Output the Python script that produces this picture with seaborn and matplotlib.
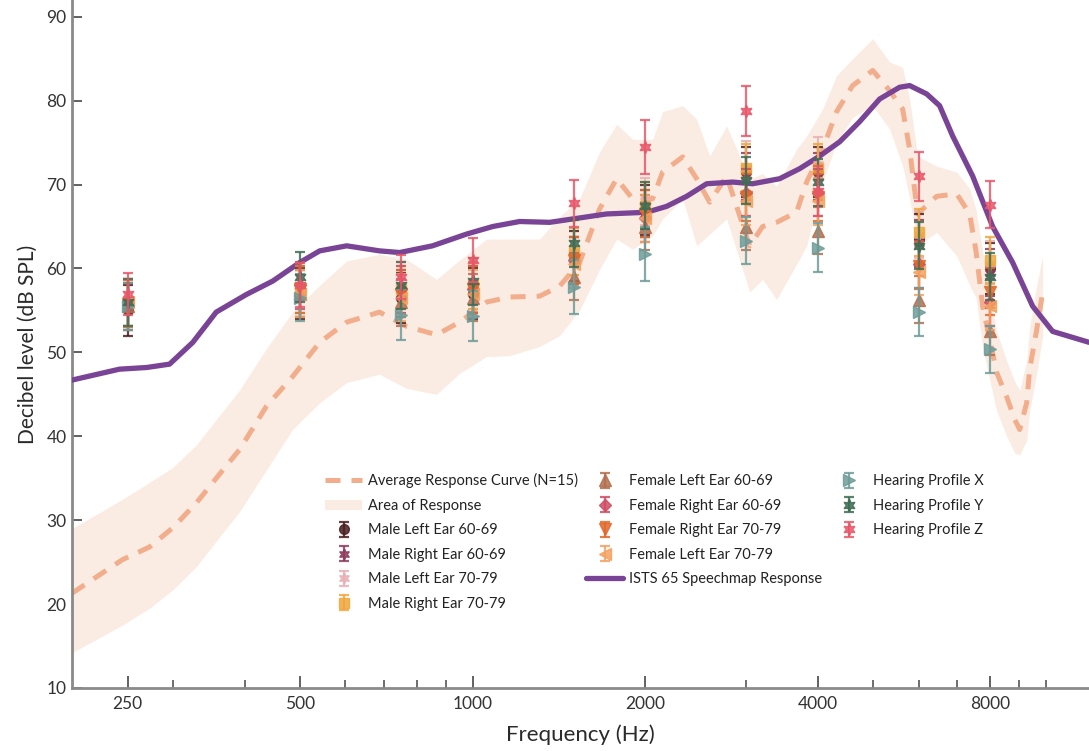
import numpy as np
import pandas as pd
import matplotlib
matplotlib.use("Agg")
import matplotlib.pyplot as plt
import seaborn as sns
from matplotlib.patches import Rectangle, Patch
from matplotlib.ticker import FixedLocator, FixedFormatter, NullFormatter

# ---------------- data ----------------
avg_freq = [200, 245, 273, 300, 330, 357, 392, 437, 485, 541, 603, 688, 767, 865, 949,
            1058, 1160, 1309, 1419, 1537, 1666, 1784, 1902, 2061, 2146, 2326, 2460, 2592,
            2775, 3044, 3207, 3392, 3675, 3827, 4081, 4317, 4604, 4990, 5342, 5628, 5790,
            5977, 6452, 6993, 7368, 7560, 7763, 8213, 8550, 8830, 9010, 9265, 9375, 9645, 9880]
avg_db = [21.3, 25.3, 26.8, 29.1, 32.1, 35.0, 38.4, 43.6, 47.1, 51.2, 53.6, 54.8, 53.1, 52.1, 53.6,
          56.0, 56.6, 56.7, 57.9, 60.7, 67.1, 70.7, 68.3, 68.3, 71.5, 73.3, 70.7, 67.9,
          71.0, 62.7, 65.0, 65.5, 66.7, 70.3, 74.2, 78.7, 81.8, 83.6, 81.2, 79.0, 74.2,
          66.5, 68.6, 68.9, 66.5, 62.0, 55.5, 47.6, 44.7, 42.0, 40.8, 44.0, 48.0, 52.7, 57.2]
band_lo = [14.2, 17.5, 19.5, 21.7, 24.5, 27.5, 31.0, 36.0, 40.8, 44.0, 46.4, 47.4, 45.7, 45.0, 47.5,
           49.5, 49.6, 50.7, 52.0, 55.0, 59.9, 63.5, 62.3, 63.9, 65.9, 68.3, 62.7, 64.1,
           65.9, 57.2, 58.7, 56.3, 60.5, 62.7, 70.3, 75.0, 78.0, 79.4, 76.6, 72.2, 68.3,
           62.7, 64.3, 61.5, 58.0, 56.5, 50.5, 43.0, 40.0, 38.0, 37.8, 39.5, 43.0, 47.5, 52.0]
band_hi = [29.0, 32.5, 34.5, 36.3, 39.0, 42.0, 45.5, 50.5, 54.8, 58.0, 60.9, 61.7, 61.1, 58.7, 61.0,
           63.5, 63.5, 63.5, 66.2, 68.3, 73.9, 77.2, 75.4, 75.4, 78.7, 79.4, 77.8, 73.4,
           77.0, 70.7, 71.3, 69.8, 74.2, 75.8, 79.0, 83.0, 85.0, 87.4, 84.6, 84.0, 80.2,
           73.4, 72.2, 71.5, 69.5, 67.0, 62.0, 52.5, 49.0, 46.5, 45.5, 49.0, 53.0, 58.0, 61.5]

ists_freq = [200, 242, 270, 296, 325, 357, 403, 448, 499, 541, 603, 688, 746, 851, 976,
             1084, 1208, 1363, 1494, 1713, 2012, 2180, 2363, 2561, 2843, 3081, 3434, 3722,
             4033, 4370, 4735, 5132, 5560, 5790, 6200, 6530, 6880, 7458, 8080, 8758, 9490,
             10283, 11900]
ists_db = [46.7, 48.0, 48.2, 48.6, 51.2, 54.8, 56.9, 58.5, 60.7, 62.1, 62.7, 62.1, 61.9, 62.7, 64.1,
           65.0, 65.6, 65.5, 65.9, 66.5, 66.7, 67.4, 68.6, 70.1, 70.3, 70.1, 70.7, 71.9,
           73.4, 75.1, 77.5, 80.2, 81.6, 81.8, 80.8, 79.4, 75.8, 71.0, 65.0, 60.7, 55.5,
           52.5, 51.2]

test_freqs = [250, 500, 750, 1000, 1500, 2000, 3000, 4000, 6000, 8000]
male_left_60 = [55.0, 57.0, 56.5, 57.0, 61.5, 67.0, 71.5, 71.5, 63.5, 60.0]
male_right_60 = [55.5, 57.0, 57.0, 57.5, 61.0, 66.5, 71.0, 71.0, 63.0, 59.5]
male_left_70 = [56.0, 57.5, 58.0, 58.0, 62.0, 68.0, 72.0, 72.5, 64.0, 60.5]
male_right_70 = [56.0, 57.5, 57.5, 58.0, 62.0, 67.5, 72.0, 72.0, 64.3, 61.0]
female_left_60 = [55.5, 57.0, 56.0, 56.5, 59.0, 65.0, 65.0, 64.5, 56.3, 52.5]
female_right_60 = [56.0, 58.0, 57.5, 57.5, 61.0, 66.0, 69.0, 69.0, 60.5, 56.0]
female_right_70 = [55.8, 57.5, 57.0, 57.5, 61.0, 66.5, 68.5, 68.5, 60.3, 57.2]
female_left_70 = [56.0, 57.0, 56.5, 57.0, 60.5, 66.0, 68.0, 68.0, 59.6, 55.5]
profile_x = [55.5, 56.5, 54.5, 54.3, 57.8, 61.7, 63.3, 62.5, 54.8, 50.4]
profile_y = [56.0, 59.0, 58.0, 58.5, 63.0, 67.5, 70.5, 70.3, 62.7, 59.0]
profile_z = [57.0, 58.0, 59.0, 61.0, 67.8, 74.5, 78.8, 69.2, 71.0, 67.6]

err_male_left_60 = [3.0, 3.0, 3.0, 3.0, 3.0, 3.0, 3.0, 3.0, 3.0, 3.0]
err_male_right_60 = [2.8, 2.8, 2.8, 2.8, 2.8, 2.8, 2.8, 2.8, 2.8, 2.8]
err_male_left_70 = [2.8, 2.8, 2.8, 2.8, 2.8, 2.8, 3.2, 3.2, 2.8, 2.8]
err_male_right_70 = [2.8, 2.8, 2.8, 2.8, 2.8, 2.8, 2.8, 2.8, 2.8, 2.8]
err_female_left_60 = [2.8, 2.8, 2.8, 2.8, 2.8, 2.8, 2.8, 2.8, 2.8, 2.8]
err_female_right_60 = [2.8, 2.8, 2.8, 2.8, 2.8, 2.8, 2.8, 2.8, 2.8, 2.8]
err_female_right_70 = [2.8, 2.8, 2.8, 2.8, 2.8, 2.8, 2.8, 2.8, 2.8, 2.8]
err_female_left_70 = [2.8, 2.8, 2.8, 2.8, 2.8, 2.8, 2.8, 2.8, 2.8, 2.8]
err_profile_x = [2.8, 2.8, 3.0, 3.0, 3.2, 3.2, 2.8, 2.9, 2.9, 2.8]
err_profile_y = [2.8, 3.0, 2.8, 2.8, 2.8, 2.8, 2.8, 2.8, 2.8, 2.8]
err_profile_z = [2.5, 2.6, 2.6, 2.6, 2.8, 3.2, 3.0, 3.0, 2.9, 2.8]

x_ticks = [250, 500, 1000, 2000, 4000, 8000]
x_tick_labels = ["250", "500", "1000", "2000", "4000", "8000"]
x_minor = [300, 400, 600, 700, 800, 900, 3000, 5000, 6000, 7000, 9000, 10000]
y_ticks = [10, 20, 30, 40, 50, 60, 70, 80, 90]

# ---------------- style ----------------
sns.set_style("ticks")
plt.rcParams["font.family"] = ["Lato", "DejaVu Sans"]

fig = plt.figure(figsize=(10.89, 7.51), dpi=100)
ax = fig.add_axes([72 / 1089, 63 / 751, 1017 / 1089, 688 / 751])
ax.set_xscale("log")

ax.fill_between(avg_freq, band_lo, band_hi, color="#fbece3", lw=0, zorder=1)

avg_df = pd.DataFrame({"freq": avg_freq, "db": avg_db})
sns.lineplot(data=avg_df, x="freq", y="db", ax=ax, color="#f2ae8c", linewidth=3.6,
             linestyle=(0, (3, 2.2)), estimator=None, sort=False, zorder=2, legend=False)
avg_line = ax.lines[-1]

ists_df = pd.DataFrame({"freq": ists_freq, "db": ists_db})
sns.lineplot(data=ists_df, x="freq", y="db", ax=ax, color="#7a4496", linewidth=3.8,
             estimator=None, sort=False, zorder=3, legend=False)
ists_line = ax.lines[-1]

hexstar = (6, 1, 0)
series = [
    ("Male Left Ear 60-69", male_left_60, err_male_left_60, "o", "#4a1e1f", 7),
    ("Male Right Ear 60-69", male_right_60, err_male_right_60, hexstar, "#8c3b5a", 8),
    ("Male Left Ear 70-79", male_left_70, err_male_left_70, hexstar, "#e8b0b6", 8),
    ("Male Right Ear 70-79", male_right_70, err_male_right_70, "s", "#f1a63c", 6.5),
    ("Female Left Ear 60-69", female_left_60, err_female_left_60, "^", "#b26e4e", 8),
    ("Female Right Ear 60-69", female_right_60, err_female_right_60, "D", "#cf4c63", 6.5),
    ("Female Right Ear 70-79", female_right_70, err_female_right_70, "v", "#e2682a", 8),
    ("Female Left Ear 70-79", female_left_70, err_female_left_70, "<", "#f4a160", 8),
    ("Hearing Profile X", profile_x, err_profile_x, ">", "#6e9c99", 8.5),
    ("Hearing Profile Y", profile_y, err_profile_y, hexstar, "#3e6c55", 9),
    ("Hearing Profile Z", profile_z, err_profile_z, hexstar, "#e8576a", 9),
]
eb = {}
for i, (name, vals, errs, mk, col, ms) in enumerate(series):
    eb[name] = ax.errorbar(test_freqs, vals, yerr=errs, ls="none", marker=mk, ms=ms,
                           color=col, mec=col, mfc=col, ecolor=col, elinewidth=1.6,
                           capsize=3.5, capthick=1.6, alpha=0.85, zorder=5 + i)

if ax.get_legend() is not None:
    ax.get_legend().remove()

# ---------------- axes ----------------
ax.set_xlim(200, 11900)
ax.set_ylim(10, 92)
ax.xaxis.set_major_locator(FixedLocator(x_ticks))
ax.xaxis.set_major_formatter(FixedFormatter(x_tick_labels))
ax.xaxis.set_minor_locator(FixedLocator(x_minor))
ax.xaxis.set_minor_formatter(NullFormatter())
ax.set_yticks(y_ticks)
ax.set_yticklabels([str(v) for v in y_ticks])

for s in ["top", "right"]:
    ax.spines[s].set_visible(False)
for s in ["left", "bottom"]:
    ax.spines[s].set_color("#8a8a8a")
    ax.spines[s].set_linewidth(2.0)

ax.tick_params(axis="x", which="major", direction="in", length=9, width=1.3,
               color="#555555", labelsize=12.5, labelcolor="#333333", pad=6)
ax.tick_params(axis="x", which="minor", direction="in", length=5.5, width=1.2,
               color="#555555")
ax.tick_params(axis="y", which="major", direction="in", length=7, width=1.3,
               color="#555555", labelsize=12.5, labelcolor="#333333", pad=4)

ax.set_xlabel("Frequency (Hz)", fontsize=16, color="#2a2a2a", labelpad=9)
ax.set_ylabel("Decibel level (dB SPL)", fontsize=15, color="#2a2a2a", labelpad=6)

# ---------------- legend ----------------
blank = Rectangle((0, 0), 1, 1, fill=False, edgecolor="none", visible=False)
band_handle = Patch(facecolor="#fbece3", edgecolor="none")
handles = [avg_line, band_handle,
           eb["Male Left Ear 60-69"], eb["Male Right Ear 60-69"],
           eb["Male Left Ear 70-79"], eb["Male Right Ear 70-79"],
           eb["Female Left Ear 60-69"], eb["Female Right Ear 60-69"],
           eb["Female Right Ear 70-79"], eb["Female Left Ear 70-79"],
           ists_line, blank,
           eb["Hearing Profile X"], eb["Hearing Profile Y"], eb["Hearing Profile Z"],
           blank, blank, blank]
labels = ["Average Response Curve (N=15)", "Area of Response",
          "Male Left Ear 60-69", "Male Right Ear 60-69",
          "Male Left Ear 70-79", "Male Right Ear 70-79",
          "Female Left Ear 60-69", "Female Right Ear 60-69",
          "Female Right Ear 70-79", "Female Left Ear 70-79",
          "ISTS 65 Speechmap Response", "",
          "Hearing Profile X", "Hearing Profile Y", "Hearing Profile Z",
          "", "", ""]
leg = fig.legend(handles, labels, ncol=3, loc="upper left",
                 bbox_to_anchor=(318 / 1089, 1 - 466 / 751), frameon=False,
                 fontsize=10.5, handlelength=2.5, handletextpad=0.4,
                 columnspacing=0.6, labelspacing=0.72, borderpad=0)
for t in leg.get_texts():
    t.set_color("#222222")

fig.savefig("out.png", dpi=100)
